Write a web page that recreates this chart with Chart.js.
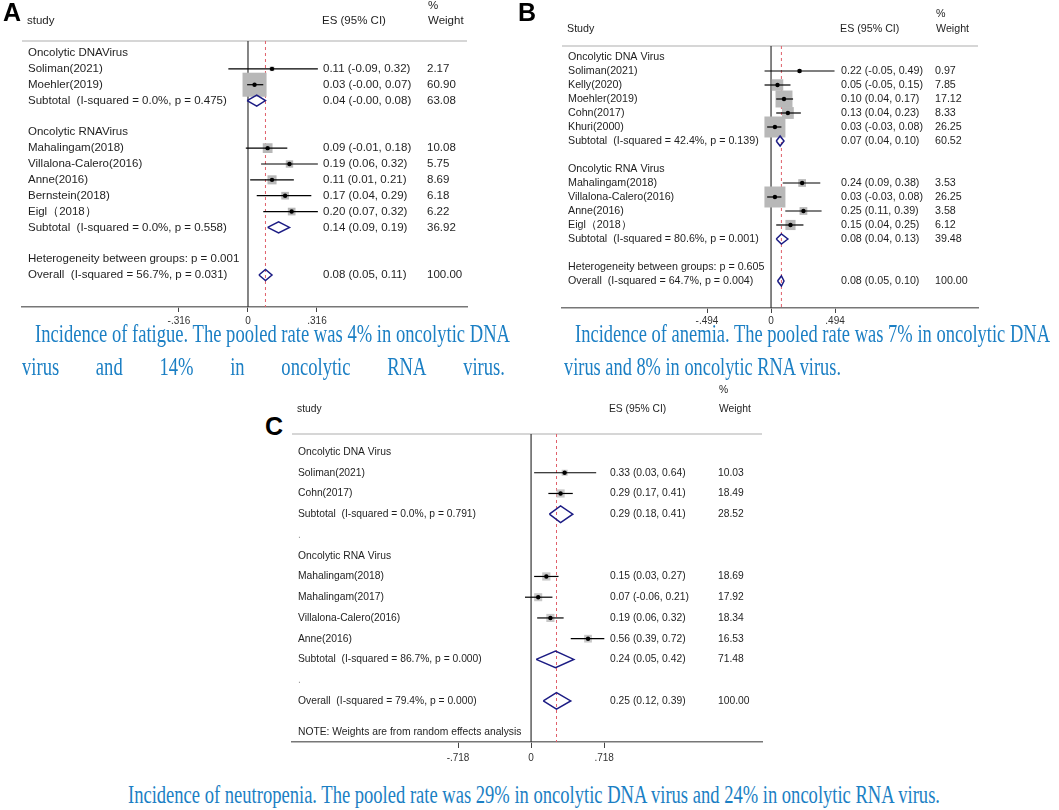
<!DOCTYPE html>
<html>
<head>
<meta charset="utf-8">
<script src="https://cdn.jsdelivr.net/npm/chart.js@4.4.1/dist/chart.umd.min.js"></script>
<style>
  body { margin: 0; background: #fff; width: 1059px; height: 810px; position: relative; overflow: hidden; }
  .panel { position: absolute; }
  .tag { position: absolute; font: bold 25px/1 "Liberation Sans", Arial, sans-serif; color: #000; }
  .cap { position: absolute; font: 25px/1 "Liberation Serif", "Times New Roman", serif; color: #1b7fc4;
         white-space: nowrap; transform-origin: 0 0; }
  .just { display: flex; justify-content: space-between; }
</style>
</head>
<body>
<div class="panel" style="left:0;top:0;width:530px;height:330px"><canvas id="chartA"></canvas></div>
<div class="panel" style="left:530px;top:0;width:529px;height:330px"><canvas id="chartB"></canvas></div>
<div class="panel" style="left:285px;top:375px;width:545px;height:400px"><canvas id="chartC"></canvas></div>

<div class="tag" style="left:3px;top:0">A</div>
<div class="tag" style="left:518px;top:0">B</div>
<div class="tag" style="left:265px;top:414px">C</div>

<div class="cap" id="capA1" data-l="35" data-r="510" style="top:321px">Incidence of fatigue. The pooled rate was 4% in oncolytic DNA</div>
<div class="cap just" id="capA2" data-l="22" data-r="505" style="top:354px"><span>virus</span><span>and</span><span>14%</span><span>in</span><span>oncolytic</span><span>RNA</span><span>virus.</span></div>
<div class="cap" id="capB1" data-l="575" data-r="1050" style="top:321px">Incidence of anemia. The pooled rate was 7% in oncolytic DNA</div>
<div class="cap" id="capB2" data-l="564" data-r="841" style="top:354px">virus and 8% in oncolytic RNA virus.</div>
<div class="cap" id="capC" data-l="128" data-r="940" style="top:782px">Incidence of neutropenia. The pooled rate was 29% in oncolytic DNA virus and 24% in oncolytic RNA virus.</div>

<script>
// A: fatigue
const fatigueStudies = ["Oncolytic DNAVirus", "Soliman(2021)", "Moehler(2019)", "Subtotal  (I-squared = 0.0%, p = 0.475)", "",
  "Oncolytic RNAVirus", "Mahalingam(2018)", "Villalona-Calero(2016)", "Anne(2016)", "Bernstein(2018)", "Eigl（2018）",
  "Subtotal  (I-squared = 0.0%, p = 0.558)", "", "Heterogeneity between groups: p = 0.001", "Overall  (I-squared = 56.7%, p = 0.031)"];
const fatigueES = [null, 0.11, 0.03, 0.04, null, null, 0.09, 0.19, 0.11, 0.17, 0.20, 0.14, null, null, 0.08];
const fatigueLo = [null, -0.09, -0.004, -0.004, null, null, -0.01, 0.06, 0.01, 0.04, 0.07, 0.09, null, null, 0.05];
const fatigueHi = [null, 0.32, 0.07, 0.08, null, null, 0.18, 0.32, 0.21, 0.29, 0.32, 0.19, null, null, 0.11];
const fatigueWeight = [null, 2.17, 60.90, 63.08, null, null, 10.08, 5.75, 8.69, 6.18, 6.22, 36.92, null, null, 100.00];
const fatigueTicks = [-0.316, 0, 0.316];

// B: anemia
const anemiaStudies = ["Oncolytic DNA Virus", "Soliman(2021)", "Kelly(2020)", "Moehler(2019)", "Cohn(2017)", "Khuri(2000)",
  "Subtotal  (I-squared = 42.4%, p = 0.139)", "", "Oncolytic RNA Virus", "Mahalingam(2018)", "Villalona-Calero(2016)",
  "Anne(2016)", "Eigl（2018）", "Subtotal  (I-squared = 80.6%, p = 0.001)", "", "Heterogeneity between groups: p = 0.605",
  "Overall  (I-squared = 64.7%, p = 0.004)"];
const anemiaES = [null, 0.22, 0.05, 0.10, 0.13, 0.03, 0.07, null, null, 0.24, 0.03, 0.25, 0.15, 0.08, null, null, 0.08];
const anemiaLo = [null, -0.05, -0.05, 0.04, 0.04, -0.03, 0.04, null, null, 0.09, -0.03, 0.11, 0.04, 0.04, null, null, 0.05];
const anemiaHi = [null, 0.49, 0.15, 0.17, 0.23, 0.08, 0.10, null, null, 0.38, 0.08, 0.39, 0.25, 0.13, null, null, 0.10];
const anemiaWeight = [null, 0.97, 7.85, 17.12, 8.33, 26.25, 60.52, null, null, 3.53, 26.25, 3.58, 6.12, 39.48, null, null, 100.00];
const anemiaTicks = [-0.494, 0, 0.494];

// C: neutropenia
const neutropeniaStudies = ["Oncolytic DNA Virus", "Soliman(2021)", "Cohn(2017)", "Subtotal  (I-squared = 0.0%, p = 0.791)", ".",
  "Oncolytic RNA Virus", "Mahalingam(2018)", "Mahalingam(2017)", "Villalona-Calero(2016)", "Anne(2016)",
  "Subtotal  (I-squared = 86.7%, p = 0.000)", ".", "Overall  (I-squared = 79.4%, p = 0.000)"];
const neutropeniaES = [null, 0.33, 0.29, 0.29, null, null, 0.15, 0.07, 0.19, 0.56, 0.24, null, 0.25];
const neutropeniaLo = [null, 0.03, 0.17, 0.18, null, null, 0.03, -0.06, 0.06, 0.39, 0.05, null, 0.12];
const neutropeniaHi = [null, 0.64, 0.41, 0.41, null, null, 0.27, 0.21, 0.32, 0.72, 0.42, null, 0.39];
const neutropeniaWeight = [null, 10.03, 18.49, 28.52, null, null, 18.69, 17.92, 18.34, 16.53, 71.48, null, 100.00];
const neutropeniaTicks = [-0.718, 0, 0.718];
const neutropeniaNote = "NOTE: Weights are from random effects analysis";

const SANS = '"Liberation Sans", Arial, sans-serif';

function fmtTick(v) {
  if (v === 0) return "0";
  return (v < 0 ? "-" : "") + String(Math.abs(v)).replace(/^0/, "");
}

const isPooled = s => s.startsWith("Subtotal") || s.startsWith("Overall");

// draws the rules, the null line, the pooled line and the text columns
const forestTable = {
  id: "forestTable",
  beforeDatasetsDraw(chart, args, o) {
    const { ctx, chartArea: a, scales: { x } } = chart;
    ctx.save();
    ctx.strokeStyle = "#c8c8c8";
    ctx.lineWidth = 1.5;
    ctx.beginPath(); ctx.moveTo(a.left, a.top); ctx.lineTo(a.right, a.top); ctx.stroke();

    const x0 = x.getPixelForValue(0);
    ctx.strokeStyle = "#333";
    ctx.lineWidth = 1.2;
    ctx.beginPath(); ctx.moveTo(x0, a.top); ctx.lineTo(x0, a.bottom); ctx.stroke();

    const xp = x.getPixelForValue(o.pooled);
    ctx.strokeStyle = "#e0606a";
    ctx.lineWidth = 1;
    ctx.setLineDash([3, 3]);
    ctx.beginPath(); ctx.moveTo(xp, a.top); ctx.lineTo(xp, a.bottom); ctx.stroke();
    ctx.restore();
  },
  afterDraw(chart, args, o) {
    const { ctx, chartArea: a, scales: { y } } = chart;
    ctx.save();
    ctx.font = o.fontSize + "px " + SANS;
    ctx.textBaseline = "middle";
    ctx.fillStyle = "#1e1e1e";
    // headers
    ctx.fillText(o.studyHead, o.cols[0] - 1, o.headY);
    ctx.fillText("ES (95% CI)", o.cols[1] - 1, o.headY);
    ctx.fillText("%", o.cols[2] + 1, o.pctY);
    ctx.fillText("Weight", o.cols[2] + 1, o.headY);

    o.studies.forEach((s, i) => {
      const py = y.getPixelForValue(i);
      ctx.fillStyle = s === "." ? "#999" : "#1e1e1e";
      ctx.fillText(s, o.cols[0], py);
      if (o.es[i] != null) {
        ctx.fillText(o.es[i].toFixed(2) + " (" + o.lo[i].toFixed(2) + ", " + o.hi[i].toFixed(2) + ")", o.cols[1], py);
        ctx.fillText(o.weight[i].toFixed(2), o.cols[2], py);
      }
    });
    if (o.note) {
      ctx.fillStyle = "#1e1e1e";
      ctx.fillText(o.note, o.cols[0], a.bottom - 10);
    }
    ctx.restore();
  }
};

function makeForest(id, studies, es, lo, hi, weight, ticks, cfg) {
  const rows = studies.map((s, i) => i).filter(i => es[i] != null);
  const single = rows.filter(i => !isPooled(studies[i]));
  const pooled = rows.filter(i => isPooled(studies[i]));
  const overall = rows.find(i => studies[i].startsWith("Overall"));

  const datasets = [];
  // point estimate dots
  datasets.push({
    data: single.map(i => ({ x: es[i], y: i })),
    pointStyle: "circle", pointRadius: 2.2, backgroundColor: "#000", borderWidth: 0, order: 0
  });
  // confidence intervals
  single.forEach(i => datasets.push({
    data: [{ x: lo[i], y: i }, { x: hi[i], y: i }],
    showLine: true, borderColor: "#000", borderWidth: 1.2, pointRadius: 0, order: 1
  }));
  // weight boxes
  datasets.push({
    data: single.map(i => ({ x: es[i], y: i })),
    pointStyle: "rect",
    pointRadius: single.map(i => cfg.box * Math.sqrt(weight[i]) / (2 * Math.SQRT1_2)),
    backgroundColor: cfg.boxColor, borderWidth: 0, order: 2
  });
  // pooled diamonds
  pooled.forEach(i => datasets.push({
    data: [{ x: lo[i], y: i }, { x: es[i], y: i - cfg.dh }, { x: hi[i], y: i },
           { x: es[i], y: i + cfg.dh }, { x: lo[i], y: i }],
    showLine: true, borderColor: "#1c1c84", borderWidth: 1.5, pointRadius: 0, fill: false, order: 1
  }));

  return new Chart(document.getElementById(id), {
    type: "scatter",
    data: { datasets },
    plugins: [forestTable],
    options: {
      responsive: true,
      maintainAspectRatio: false,
      animation: false,
      events: [],
      layout: { padding: cfg.pad },
      plugins: {
        legend: { display: false },
        tooltip: { enabled: false },
        forestTable: {
          studies, es, lo, hi, weight,
          pooled: es[overall],
          cols: cfg.cols, headY: cfg.headY, pctY: cfg.pctY,
          fontSize: cfg.fontSize, studyHead: cfg.studyHead, note: cfg.note
        }
      },
      scales: {
        x: {
          type: "linear", min: cfg.xMin, max: cfg.xMax,
          afterBuildTicks: s => { s.ticks = ticks.map(v => ({ value: v })); },
          afterFit: s => { s.height = cfg.axisH; },
          ticks: { autoSkip: false, maxRotation: 0, padding: cfg.tickPad, color: "#333",
                   font: { size: 10, family: SANS }, callback: v => fmtTick(v) },
          grid: { drawOnChartArea: false, drawTicks: true, tickLength: cfg.tickLen, color: "#444" },
          border: { display: true, color: "#777", width: 1.6 }
        },
        y: { type: "linear", display: false, reverse: true, min: cfg.yMin, max: cfg.yMax }
      }
    }
  });
}

makeForest("chartA", fatigueStudies, fatigueES, fatigueLo, fatigueHi, fatigueWeight, fatigueTicks, {
  pad: { left: 22, right: 63, top: 41, bottom: 0 }, axisH: 23, tickLen: 5, tickPad: 3,
  xMin: -1.035, xMax: 1.003, yMin: -0.757, yMax: 16.02,
  cols: [28, 323, 427], headY: 21, pctY: 6, fontSize: 11.5, studyHead: "study",
  box: 3.08, boxColor: "#b8b8b8", dh: 0.35
});

makeForest("chartB", anemiaStudies, anemiaES, anemiaLo, anemiaHi, anemiaWeight, anemiaTicks, {
  pad: { left: 32, right: 81, top: 46, bottom: 0 }, axisH: 22, tickLen: 5, tickPad: 2,
  xMin: -1.613, xMax: 1.597, yMin: -0.786, yMax: 17.93,
  cols: [38, 311, 405], headY: 29, pctY: 14, fontSize: 10.7, studyHead: "Study",
  box: 4.1, boxColor: "#b8b8b8", dh: 0.36
});

makeForest("chartC", neutropeniaStudies, neutropeniaES, neutropeniaLo, neutropeniaHi, neutropeniaWeight, neutropeniaTicks, {
  pad: { left: 7, right: 68, top: 59, bottom: 8 }, axisH: 25, tickLen: 6, tickPad: 4,
  xMin: -2.35, xMax: 2.27, yMin: -0.867, yMax: 13.98,
  cols: [13, 325, 433], headY: 34, pctY: 15, fontSize: 10.3, studyHead: "study",
  box: 1.9, boxColor: "#c8c8c8", dh: 0.4, note: neutropeniaNote
});

// squeeze the captions horizontally so each line spans the same width as in the figure
function fitLine(el) {
  const l = +el.dataset.l, r = +el.dataset.r;
  el.style.left = l + "px";
  const s = (r - l) / el.getBoundingClientRect().width;
  el.style.transform = "scaleX(" + s + ")";
  return s;
}
function fitJustified(el, s) {
  const l = +el.dataset.l, r = +el.dataset.r;
  el.style.left = l + "px";
  el.style.width = ((r - l) / s) + "px";
  el.style.transform = "scaleX(" + s + ")";
}
const sA = fitLine(document.getElementById("capA1"));
fitJustified(document.getElementById("capA2"), sA);
fitLine(document.getElementById("capB1"));
fitLine(document.getElementById("capB2"));
fitLine(document.getElementById("capC"));
</script>
</body>
</html>
